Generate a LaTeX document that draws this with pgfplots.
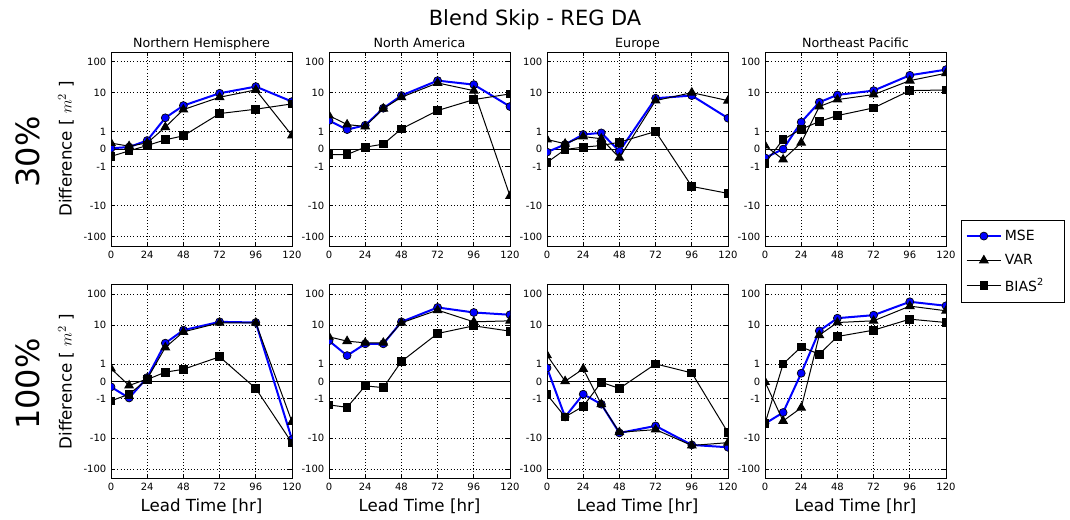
\documentclass[border=0pt]{standalone}
\usepackage{fontspec}
\setmainfont{DejaVu Sans}
\usepackage{pgfplots}
\usepackage{pgfplotstable}
\pgfplotsset{compat=1.18}

% x mse var bias
\pgfplotstableread{
x mse var bias
0 0.05 0.35 -0.42
12 0.12 0.17 -0.1
24 0.5 0.36 0.21
36 1.81 1.27 0.54
48 3.89 2.89 0.77
72 9.66 7.19 2.15
96 15.8 12.4 2.97
120 5.22 0.79 4.40
}\tA
\pgfplotstableread{
x mse var bias
0 1.65 1.94 -0.31
12 1.13 1.42 -0.31
24 1.38 1.31 0.115
36 3.19 3.1 0.29
48 8.13 7.2 1.17
72 24.6 20.7 2.69
96 18.3 11.7 6.05
120 3.61 -4.97 9.2
}\tB
\pgfplotstableread{
x mse var bias
0 -0.17 0.56 -0.77
12 0.27 0.31 -0.02
24 0.85 0.73 0.115
36 0.94 0.6 0.21
48 -0.12 -0.5 0.40
72 6.68 5.62 1.02
96 8.13 10.1 -2.44
120 1.79 5.6 -4.08
}\tC
\pgfplotstableread{
x mse var bias
0 -0.5 0.21 -0.81
12 0 -0.6 0.56
24 1.56 0.37 1.15
36 4.97 3.61 1.6
48 8.53 6.05 1.94
72 11.75 8.75 3.27
96 36.5 24.6 11.75
120 55.4 42.3 12.3
}\tD
\pgfplotstableread{
x mse var bias
0 -0.31 0.75 -1.12
12 -0.95 -0.23 -0.73
24 0.23 0.15 0.12
36 2.65 1.97 0.54
48 6.93 6.1 0.71
72 12.8 11.9 1.43
96 12.2 11.9 -0.4
120 -11.35 -3.07 -14.5
}\tE
\pgfplotstableread{
x mse var bias
0 3.15 4.23 -1.35
12 1.5 3.07 -1.49
24 2.52 2.71 -0.25
36 2.52 2.71 -0.35
48 12.8 11.9 1.16
72 37.1 30.5 5.41
96 25.6 12.8 9.55
120 21.6 13.8 6.43
}\tF
\pgfplotstableread{
x mse var bias
0 0.79 1.52 -0.75
12 -2.12 0.02 -2.12
24 -0.73 0.73 -1.43
36 -1.31 -1.31 -0.04
48 -6.93 -6.6 -0.4
72 -4.12 -5.41 1.02
96 -16.8 -17.5 0.5
120 -20 -14.2 -6.76
}\tG
\pgfplotstableread{
x mse var bias
0 -3.47 -0.02 -3.47
12 -1.79 -2.85 1.02
24 0.48 -1.52 2.0
36 6.59 4.79 1.58
48 16.8 12.2 4.33
72 21.0 13.8 6.93
96 56.5 41 15.6
120 42 29 12.2
}\tH

\pgfplotsset{
  every axis title shift=0pt,
  panel/.style={
    scale only axis, width=135.75pt, height=145.3pt,
    xmin=0, xmax=120, ymin=-3.111111, ymax=3.111111,
    xtick={0,24,48,72,96,120},
    ytick={-2.81008,-1.81008,-0.555556,0,0.555556,1.81008,2.81008},
    yticklabels={-100,-10,-1,0,1,10,100},
    grid=major,
    major grid style={black, dotted, line width=0.6pt},
    axis line style={black, line width=0.75pt},
    tick style={black, line width=0.6pt},
    major tick length=3pt,
    tick label style={font=\fontsize{7.5}{8.5}\selectfont},
    /pgf/number format/assume math mode=true,
    title style={font=\fontsize{9.5}{11}\selectfont, at={(axis description cs:0.5,1.027)}, anchor=base},
    xlabel style={font=\fontsize{12.5}{14}\selectfont, at={(axis description cs:0.5,-0.169)}, anchor=base},
    ylabel style={font=\fontsize{12.5}{14}\selectfont, at={(axis description cs:-0.249,0.5)}, anchor=center},
    clip marker paths=true,
    legend image code/.code={\draw[##1, mark repeat=2, mark phase=2] plot coordinates {(0pt,0pt) (13pt,0pt) (26pt,0pt)};},
  },
  mse/.style={blue, line width=1.5pt, mark=*, mark size=3pt, mark options={fill=blue, draw=black, line width=0.5pt}},
  var/.style={black, line width=0.75pt, mark=triangle*, mark size=3.6pt, mark options={fill=black}},
  bias/.style={black, line width=0.75pt, mark=square*, mark size=2.9pt, mark options={fill=black}},
  zero/.style={black, line width=0.8pt, forget plot},
}

\newcommand{\series}[1]{%
  \addplot[zero] coordinates {(0,0) (120,0)};
  \addplot[mse] table[x=x, y expr={sl(\thisrow{mse})}] {#1};
  \addplot[var] table[x=x, y expr={sl(\thisrow{var})}] {#1};
  \addplot[bias] table[x=x, y expr={sl(\thisrow{bias})}] {#1};
}

\begin{document}
\begin{tikzpicture}[declare function={sl(\v)=(\v/max(abs(\v),2))*(1.1111111+0.4342945*ln(max(abs(\v),2)/2));}]
\useasboundingbox (0,0) rectangle (802.5pt,-389.25pt);
\node[font=\fontsize{15.7}{18}\selectfont] at (401.25pt,-14.5pt) {Blend Skip - REG DA};
\node[rotate=90, font=\fontsize{24}{28}\selectfont] at (21pt,-114pt) {30\%};
\node[rotate=90, font=\fontsize{24}{28}\selectfont] at (21pt,-288pt) {100\%};

% top row
\begin{axis}[panel, at={(83.25pt,-39.2pt)}, anchor=north west, title={Northern Hemisphere}, ylabel={Difference [ $m^2$ ]}]
\series{\tA}
\end{axis}
\begin{axis}[panel, at={(246.75pt,-39.2pt)}, anchor=north west, title={North America}]
\series{\tB}
\end{axis}
\begin{axis}[panel, at={(410.25pt,-39.2pt)}, anchor=north west, title={Europe}]
\series{\tC}
\end{axis}
\begin{axis}[panel, at={(573.75pt,-39.2pt)}, anchor=north west, title={Northeast Pacific},
  legend style={at={(1.083,0.134)}, anchor=north west, draw=black, line width=0.75pt, fill=white,
    font=\fontsize{10.5}{12}\selectfont, legend cell align=left, row sep=5pt, inner xsep=3pt, inner ysep=5pt}]
\series{\tD}
\addlegendentry{\makebox[40pt][l]{MSE}}
\addlegendentry{\makebox[40pt][l]{VAR}}
\addlegendentry{\makebox[40pt][l]{BIAS\textsuperscript{2}}}
\end{axis}

% bottom row
\begin{axis}[panel, at={(83.25pt,-213.5pt)}, anchor=north west, xlabel={Lead Time [hr]}, ylabel={Difference [ $m^2$ ]}]
\series{\tE}
\end{axis}
\begin{axis}[panel, at={(246.75pt,-213.5pt)}, anchor=north west, xlabel={Lead Time [hr]}]
\series{\tF}
\end{axis}
\begin{axis}[panel, at={(410.25pt,-213.5pt)}, anchor=north west, xlabel={Lead Time [hr]}]
\series{\tG}
\end{axis}
\begin{axis}[panel, at={(573.75pt,-213.5pt)}, anchor=north west, xlabel={Lead Time [hr]}]
\series{\tH}
\end{axis}
\end{tikzpicture}
\end{document}
